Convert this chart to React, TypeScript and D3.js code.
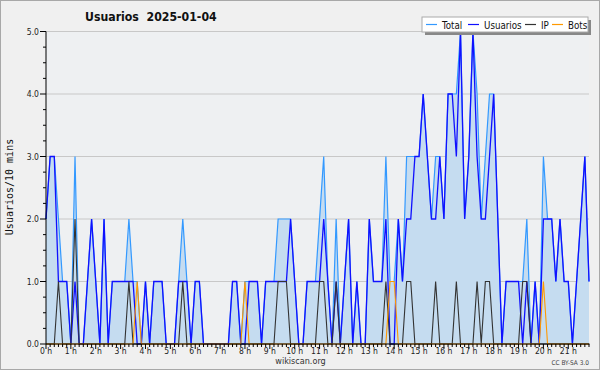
import React from "react";
import * as d3 from "d3";

const W = 600;
const H = 370;

// 10-minute intervals from 00:00 to 21:50
const usuarios = [
  2, 3, 3, 1, 1, 1, 0, 1, 0, 0,
  1, 2, 1, 0, 2, 0, 1, 1, 1, 1,
  1, 1, 0, 0, 1, 0, 1, 1, 1, 0,
  0, 0, 1, 1, 1, 0, 1, 1, 0, 0,
  0, 0, 0, 0, 0, 1, 1, 0, 0, 1,
  1, 1, 0, 1, 1, 1, 1, 1, 1, 2,
  1, 0, 0, 1, 1, 1, 1, 2, 1, 0,
  1, 0, 1, 2, 0, 1, 0, 0, 2, 1,
  1, 1, 2, 0, 0, 2, 1, 2, 2, 3,
  3, 4, 3, 2, 2, 3, 2, 4, 4, 3,
  5, 2, 3, 5, 3, 2, 2, 3, 4, 2,
  0, 1, 1, 1, 1, 0, 1, 0, 1, 0,
  2, 2, 2, 1, 2, 1, 1, 0, 1, 2,
  3, 1,
];

const ip = [
  0, 0, 0, 1, 0, 0, 0, 2, 0, 0,
  0, 0, 0, 0, 0, 0, 0, 0, 0, 0,
  1, 0, 0, 0, 0, 0, 0, 0, 0, 0,
  0, 0, 0, 1, 0, 0, 0, 0, 0, 0,
  0, 0, 0, 0, 0, 0, 0, 0, 0, 0,
  0, 0, 0, 0, 0, 0, 1, 1, 1, 0,
  0, 0, 0, 0, 0, 0, 1, 1, 0, 0,
  1, 0, 0, 0, 0, 0, 0, 0, 0, 0,
  0, 0, 1, 0, 0, 0, 0, 1, 1, 0,
  0, 0, 0, 0, 1, 0, 0, 0, 0, 1,
  0, 0, 0, 0, 1, 0, 1, 1, 0, 0,
  0, 0, 0, 0, 0, 1, 1, 0, 0, 0,
  0, 0, 0, 0, 0, 0, 0, 0, 0, 0,
  0, 0,
];

const bots = [
  0, 0, 0, 0, 0, 0, 0, 0, 0, 0,
  0, 0, 0, 0, 0, 0, 0, 0, 0, 0,
  0, 0, 1, 0, 0, 0, 0, 0, 0, 0,
  0, 0, 0, 0, 0, 0, 0, 0, 0, 0,
  0, 0, 0, 0, 0, 0, 0, 0, 1, 0,
  0, 0, 0, 0, 0, 0, 0, 0, 0, 0,
  0, 0, 0, 0, 0, 0, 0, 0, 0, 0,
  0, 0, 0, 0, 0, 0, 0, 0, 0, 0,
  0, 0, 0, 1, 1, 0, 0, 0, 0, 0,
  0, 0, 0, 0, 0, 0, 0, 0, 0, 0,
  0, 0, 0, 0, 0, 0, 0, 0, 0, 0,
  0, 0, 0, 0, 0, 0, 0, 0, 0, 0,
  1, 0, 0, 0, 0, 0, 0, 0, 0, 0,
  0, 0,
];

const total = [
  2, 3, 3, 2, 1, 1, 0, 3, 0, 0,
  1, 2, 1, 0, 2, 0, 1, 1, 1, 1,
  2, 1, 1, 0, 1, 0, 1, 1, 1, 0,
  0, 0, 1, 2, 1, 0, 1, 1, 0, 0,
  0, 0, 0, 0, 0, 1, 1, 0, 1, 1,
  1, 1, 0, 1, 1, 1, 2, 2, 2, 2,
  1, 0, 0, 1, 1, 1, 2, 3, 1, 0,
  2, 0, 1, 2, 0, 1, 0, 0, 2, 1,
  1, 1, 3, 1, 1, 2, 1, 3, 3, 3,
  3, 4, 3, 2, 3, 3, 2, 4, 4, 4,
  5, 2, 3, 5, 4, 2, 3, 4, 4, 2,
  0, 1, 1, 1, 1, 1, 2, 0, 1, 0,
  3, 2, 2, 1, 2, 1, 1, 0, 1, 2,
  3, 1,
];

const hourLabels = [
  "0 h", "1 h", "2 h", "3 h", "4 h", "5 h", "6 h", "7 h", "8 h", "9 h", "10 h",
  "11 h", "12 h", "13 h", "14 h", "15 h", "16 h", "17 h", "18 h", "19 h", "20 h", "21 h",
];
const yTickValues = [0, 1, 2, 3, 4, 5];
const yTickLabels = ["0.0", "1.0", "2.0", "3.0", "4.0", "5.0"];

const legendItems = [
  { name: "Total", color: "#3399ff" },
  { name: "Usuarios", color: "#1010ff" },
  { name: "IP", color: "#333333" },
  { name: "Bots", color: "#ff9900" },
];

const FONT = "'DejaVu Sans Condensed', 'DejaVu Sans', sans-serif";

export default function App() {
  const n = usuarios.length;
  const x = d3.scaleLinear().domain([0, n - 1]).range([46, 589]);
  const y = d3.scaleLinear().domain([0, 5]).range([344, 31.5]);

  const lineGen = d3
    .line<number>()
    .x((_, i) => x(i))
    .y((d) => y(d));
  const areaGen = d3
    .area<number>()
    .x((_, i) => x(i))
    .y0(y(0))
    .y1((d) => y(d));

  const minorY = d3.range(0, 5.001, 0.25);
  const idx = d3.range(n);

  const legendX = [426, 468, 525, 552];

  return (
    <div style={{ position: "fixed", left: 0, top: 0 }}>
      <svg width={W} height={H} style={{ display: "block" }} fontFamily={FONT}>
        <rect x={0} y={0} width={W} height={H} fill="#f0f0f0" />
        <rect x={0.5} y={0.5} width={W - 1} height={H - 1} fill="none" stroke="#a8a8a8" />
        <rect x={46} y={y(5)} width={589 - 46} height={y(0) - y(5)} fill="#eef0f2" />

        {/* grid */}
        {yTickValues.slice(1).map((v) => (
          <line key={v} x1={46} x2={589} y1={y(v)} y2={y(v)} stroke="#c8c8c8" strokeWidth={1} />
        ))}

        {/* series */}
        <path d={areaGen(total) || ""} fill="#c5dcf0" />
        <path d={lineGen(total) || ""} fill="none" stroke="#3399ff" strokeWidth={1.2} />
        <path d={lineGen(usuarios) || ""} fill="none" stroke="#1010ff" strokeWidth={1.3} />
        <path d={lineGen(ip) || ""} fill="none" stroke="#333333" strokeWidth={1.1} />
        <path d={lineGen(bots) || ""} fill="none" stroke="#ff9900" strokeWidth={1.1} />

        {/* y axis */}
        <line x1={46} x2={46} y1={y(5)} y2={y(0)} stroke="#000" />
        {minorY.map((v) => (
          <line key={v} x1={Number.isInteger(v) ? 40 : 43} x2={46} y1={y(v)} y2={y(v)} stroke="#000" />
        ))}
        {yTickValues.map((v, k) => (
          <text key={v} x={39} y={y(v) + 3} fontSize={8.5} textAnchor="end" fill="#222">
            {yTickLabels[k]}
          </text>
        ))}

        {/* x axis */}
        <line x1={46} x2={589.5} y1={y(0)} y2={y(0)} stroke="#000" strokeWidth={1.2} />
        {idx.map((i) => (
          <line
            key={i}
            x1={x(i)}
            x2={x(i)}
            y1={y(0)}
            y2={y(0) + (i % 6 === 0 ? 5 : 3)}
            stroke="#000"
          />
        ))}
        {hourLabels.map((lab, h) => (
          <text key={lab} x={x(h * 6)} y={354} fontSize={8.5} textAnchor="middle" fill="#222">
            {lab}
          </text>
        ))}

        {/* titles */}
        <text x={85} y={21} fontSize={12.2} fontWeight="bold" fill="#111">
          Usuarios{"\u00a0\u00a0"}2025-01-04
        </text>
        <text
          transform={`translate(13,187) rotate(-90)`}
          fontSize={10}
          textAnchor="middle"
          fontFamily="'DejaVu Sans Mono', monospace"
          fill="#111"
        >
          Usuarios/10 mins
        </text>
        <text x={300.5} y={364} fontSize={9} textAnchor="middle" fill="#333">
          wikiscan.org
        </text>
        <text x={589} y={365} fontSize={6.5} textAnchor="end" fill="#444">
          CC BY-SA 3.0
        </text>

        {/* legend */}
        <rect x={425} y={20} width={166} height={15} fill="#888" />
        <rect x={422} y={17} width={166} height={15} fill="#fff" stroke="#aaa" />
        {legendItems.map((it, k) => (
          <g key={it.name}>
            <line x1={legendX[k]} x2={legendX[k] + 11} y1={24.5} y2={24.5} stroke={it.color} strokeWidth={1.2} />
            <text x={legendX[k] + 16} y={28.5} fontSize={9.7} fill="#111">
              {it.name}
            </text>
          </g>
        ))}
      </svg>
    </div>
  );
}
